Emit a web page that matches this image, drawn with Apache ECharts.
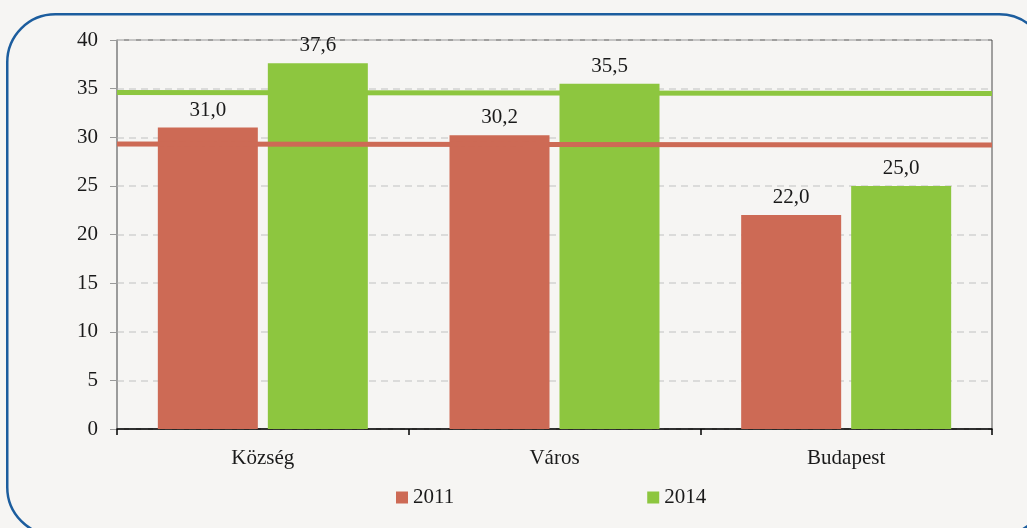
<!DOCTYPE html>
<html><head><meta charset="utf-8">
<script src="https://cdn.jsdelivr.net/npm/echarts@6/dist/echarts.min.js"></script>
<style>html,body{margin:0;padding:0;background:#f6f5f3;}#c{width:1027px;height:528px;}</style>
</head><body><div id="c"></div>
<script>
const categories = ['Község', 'Város', 'Budapest'];
const series2011 = [31.0, 30.2, 22.0];
const series2014 = [37.6, 35.5, 25.0];
const avgLine2011 = [29.3, 29.2];
const avgLine2014 = [34.6, 34.5];
const yTicks = [0, 5, 10, 15, 20, 25, 30, 35, 40];

const RED = '#cd6a55', GREEN = '#8dc63f';
const FONT = 'Liberation Serif';
const FS = 21;
const chart = echarts.init(document.getElementById('c'));
const fmt = p => p.value.toFixed(1).replace('.', ',');
chart.setOption({
  backgroundColor: '#f6f5f3',
  animation: false,
  graphic: [{
    type: 'rect', left: 6, top: 13, z: -10, silent: true,
    shape: { x: 0, y: 0, width: 1040, height: 521, r: 48 },
    style: { fill: 'transparent', stroke: '#1c5d9e', lineWidth: 2.5 }
  }],
  grid: { left: 117, right: 35, top: 40, bottom: 99, show: true, borderColor: '#4a4a4a', borderWidth: 1, backgroundColor: 'transparent' },
  legend: {
    left: 396, top: 487, padding: 0, itemWidth: 12, itemHeight: 12, itemGap: 193,
    icon: 'rect',
    textStyle: { fontFamily: FONT, fontSize: FS, color: '#1a1a1a' },
    data: ['2011', '2014']
  },
  xAxis: [{
    type: 'category', data: categories,
    axisLine: { lineStyle: { color: '#000', width: 1.5 } },
    axisTick: { show: true, length: 6, lineStyle: { color: '#000', width: 1.5 } },
    axisLabel: { fontFamily: FONT, fontSize: FS, color: '#1a1a1a', margin: 19 }
  }, {
    type: 'value', min: 0, max: 1, show: false
  }],
  yAxis: {
    type: 'value', min: 0, max: 40, interval: 5,
    axisLine: { show: true, lineStyle: { color: '#9a9a9a', width: 1.5 } },
    axisTick: { show: true, length: 7, lineStyle: { color: '#9a9a9a' } },
    axisLabel: { fontFamily: FONT, fontSize: FS, color: '#1a1a1a', margin: 19,
      formatter: v => yTicks.includes(v) ? String(v) : '' },
    splitLine: { show: true, lineStyle: { color: '#d2d2d2', type: [7, 5], width: 1.5 } }
  },
  series: [{
    name: '2011', type: 'bar', data: series2011, barWidth: 100, barGap: '10%',
    itemStyle: { color: RED }, z: 2,
    label: { show: true, position: 'top', distance: 7, formatter: fmt, fontFamily: FONT, fontSize: FS, color: '#1a1a1a' }
  }, {
    name: '2014', type: 'bar', data: series2014, barWidth: 100,
    itemStyle: { color: GREEN }, z: 2,
    label: { show: true, position: 'top', distance: 7, formatter: fmt, fontFamily: FONT, fontSize: FS, color: '#1a1a1a' }
  }, {
    name: 'avg2014', type: 'line', xAxisIndex: 1,
    data: [[0, avgLine2014[0]], [1, avgLine2014[1]]],
    symbol: 'none', lineStyle: { color: GREEN, width: 5 }, z: 1, silent: true
  }, {
    name: 'avg2011', type: 'line', xAxisIndex: 1,
    data: [[0, avgLine2011[0]], [1, avgLine2011[1]]],
    symbol: 'none', lineStyle: { color: RED, width: 5 }, z: 5, silent: true
  }]
});
</script></body></html>
